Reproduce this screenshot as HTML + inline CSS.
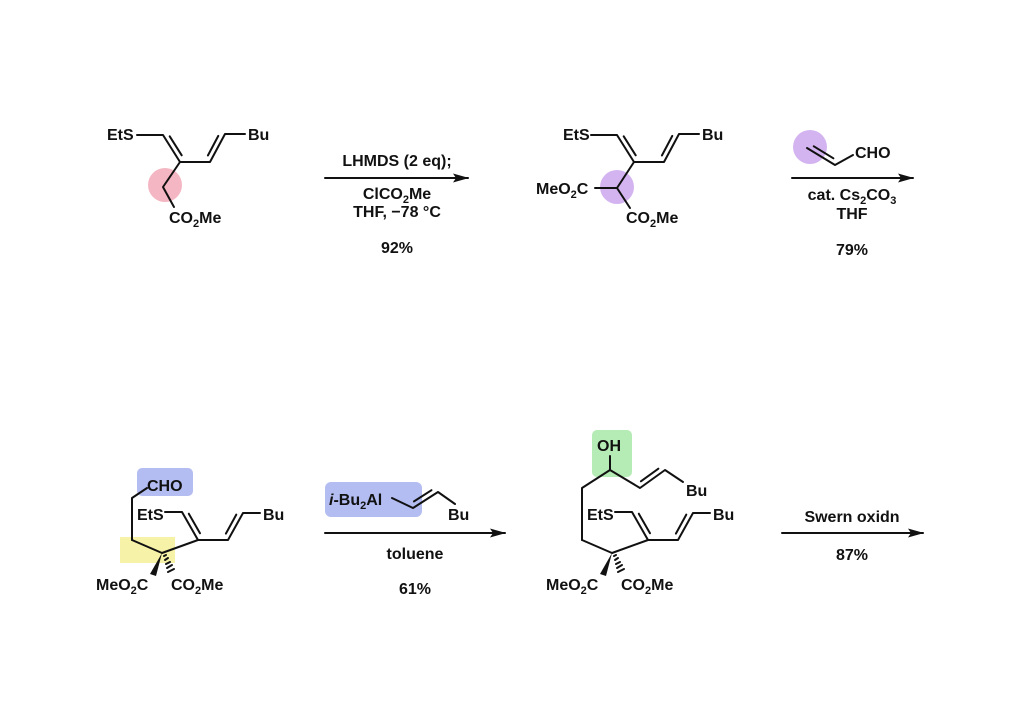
<!DOCTYPE html>
<html><head><meta charset="utf-8"><style>
html,body{margin:0;padding:0;background:#fff}
svg{display:block}
text{font-family:"Liberation Sans",Arial,sans-serif;font-weight:bold;font-size:16px;fill:#111}
.c{text-anchor:middle}
line,polyline{stroke:#111;stroke-width:2;fill:none;stroke-linecap:round;stroke-linejoin:round}
</style></head><body>
<svg width="1024" height="724" viewBox="0 0 1024 724" xmlns="http://www.w3.org/2000/svg">
<defs><marker id="ah" markerWidth="16" markerHeight="9" refX="15" refY="4.5" orient="auto" markerUnits="userSpaceOnUse"><path d="M0,0 L16,4.5 L0,9 L3,4.5 z" fill="#111"/></marker></defs>

<!-- Structure 1 -->
<circle cx="165" cy="185" r="17" fill="#f4b6c2"/>
<polyline points="137,135 163,135 180,162 210,162 225,134 245,134"/>
<line x1="169.7" y1="136.3" x2="181.7" y2="155.3"/>
<line x1="207.9" y1="155.5" x2="218.3" y2="135.9"/>
<text x="248" y="140">Bu</text>
<text x="107" y="140">EtS</text>
<polyline points="180,162 163,187 174,207"/>
<text x="169" y="223">CO<tspan font-size="11" dy="4">2</tspan><tspan dy="-4">Me</tspan></text>

<!-- Arrow 1 -->
<line x1="325" y1="178" x2="468" y2="178" marker-end="url(#ah)"/>
<text class="c" x="397" y="166">LHMDS (2 eq);</text>
<text class="c" x="397" y="199">ClCO<tspan font-size="11" dy="4">2</tspan><tspan dy="-4">Me</tspan></text>
<text class="c" x="397" y="217">THF, −78 °C</text>
<text class="c" x="397" y="253">92%</text>

<!-- Structure 2 -->
<circle cx="617" cy="187" r="17" fill="#d4b4f0"/>
<g transform="translate(454,0)">
<polyline points="137,135 163,135 180,162 210,162 225,134 245,134"/>
<line x1="169.7" y1="136.3" x2="181.7" y2="155.3"/>
<line x1="207.9" y1="155.5" x2="218.3" y2="135.9"/>
<text x="248" y="140">Bu</text>
<polyline points="180,162 163,188 176,208"/>
<line x1="163" y1="188" x2="141" y2="188"/>
</g>
<text x="563" y="140">EtS</text>
<text x="536" y="194">MeO<tspan font-size="11" dy="4">2</tspan><tspan dy="-4">C</tspan></text>
<text x="626" y="223">CO<tspan font-size="11" dy="4">2</tspan><tspan dy="-4">Me</tspan></text>

<!-- acrolein -->
<circle cx="810" cy="147" r="17" fill="#d4b4f0"/>
<polyline points="807,148 835,165 853,155"/>
<line x1="813.8" y1="146.3" x2="833.4" y2="158.3"/>
<text x="855" y="158">CHO</text>
<line x1="792" y1="178" x2="913" y2="178" marker-end="url(#ah)"/>
<text class="c" x="852" y="200">cat. Cs<tspan font-size="11" dy="4">2</tspan><tspan dy="-4">CO</tspan><tspan font-size="11" dy="4">3</tspan></text>
<text class="c" x="852" y="219">THF</text>
<text class="c" x="852" y="255">79%</text>

<!-- Structure 3 -->
<rect x="137" y="468" width="56" height="28" rx="5" fill="#b3bdf2"/>
<rect x="120" y="537" width="55" height="26" fill="#f6f2a8"/>
<text x="147" y="491">CHO</text>
<polyline points="147,488 132,498 132,540"/>
<g id="low">
<polyline points="132,540 162,553 198,540 182,512 165,512"/>
<line x1="200" y1="533.3" x2="188.8" y2="513.7"/>
<polyline points="198,540 228,540 243,513 260,513"/>
<line x1="225.9" y1="533.6" x2="236.3" y2="514.6"/>
<text x="137" y="520">EtS</text>
<text x="263" y="520">Bu</text>
<polygon points="162,553 150,574 156,576" fill="#111"/>
<g stroke="#111" stroke-width="1.5">
<line x1="164" y1="556" x2="166" y2="555"/><line x1="165" y1="560" x2="168" y2="558"/><line x1="166" y1="564" x2="170" y2="562"/><line x1="167" y1="568" x2="172" y2="565"/><line x1="168" y1="572" x2="174" y2="569"/></g>
<text x="96" y="590">MeO<tspan font-size="11" dy="4">2</tspan><tspan dy="-4">C</tspan></text>
<text x="171" y="590">CO<tspan font-size="11" dy="4">2</tspan><tspan dy="-4">Me</tspan></text>
</g>

<!-- reagent -->
<rect x="325" y="482" width="97" height="35" rx="6" fill="#b3bdf2"/>
<text x="329" y="505"><tspan font-style="italic">i</tspan>-Bu<tspan font-size="11" dy="4">2</tspan><tspan dy="-4">Al</tspan></text>
<polyline points="392,498 413,508 438,492 455,504"/>
<line x1="414" y1="501.4" x2="431.5" y2="490.2"/>
<text x="448" y="520">Bu</text>
<line x1="325" y1="533" x2="505" y2="533" marker-end="url(#ah)"/>
<text class="c" x="415" y="559">toluene</text>
<text class="c" x="415" y="594">61%</text>

<!-- Structure 4 -->
<rect x="592" y="430" width="40" height="47" rx="5" fill="#b5ecb5"/>
<text x="597" y="451">OH</text>
<line x1="610" y1="456" x2="610" y2="470"/>
<polyline points="582,540 582,488 610,470 640,488 665,470 683,482"/>
<line x1="640.9" y1="481.3" x2="658.4" y2="468.7"/>
<text x="686" y="496">Bu</text>
<use href="#low" transform="translate(450,0)"/>

<line x1="782" y1="533" x2="923" y2="533" marker-end="url(#ah)"/>
<text class="c" x="852" y="522">Swern oxidn</text>
<text class="c" x="852" y="560">87%</text>
</svg>
</body></html>
